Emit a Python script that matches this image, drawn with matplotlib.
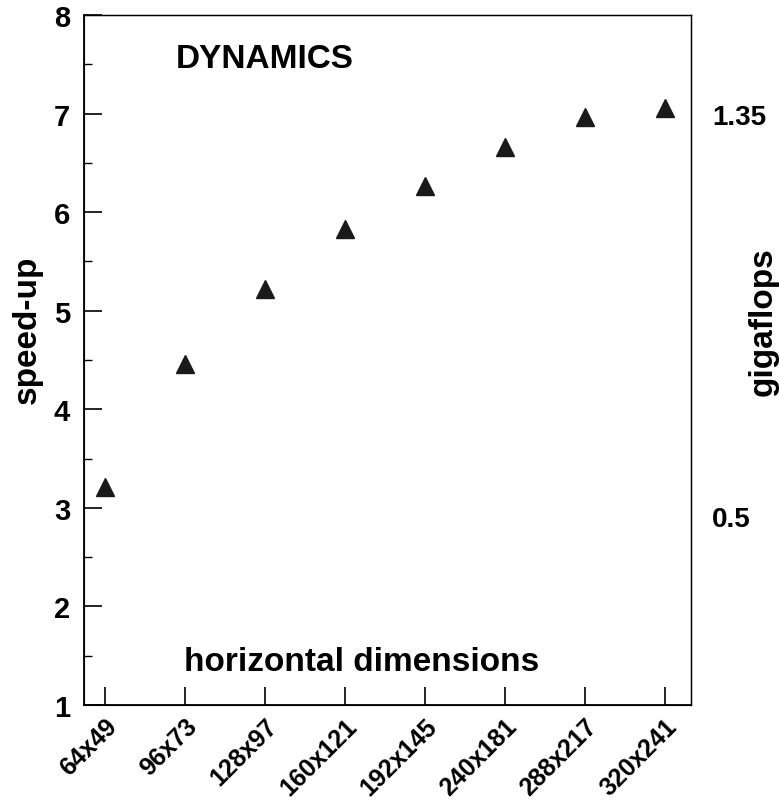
import matplotlib
matplotlib.use('Agg')
from matplotlib import pyplot as plt
from matplotlib.ticker import MultipleLocator

# data
dims = ['64x49', '96x73', '128x97', '160x121', '192x145', '240x181', '288x217', '320x241']
speedup = [3.21, 4.46, 5.22, 5.83, 6.27, 6.66, 6.97, 7.06]
gflop_labels = ['1.35', '0.5']
gflop_pos = [7.0, 2.92]   # where the gigaflops labels sit on the speed-up scale

plt.rcParams['font.family'] = ['Liberation Sans', 'DejaVu Sans']
plt.rcParams['font.weight'] = 'bold'

fig = plt.figure(figsize=(7.79, 8.04), dpi=100)
W, H = 779, 804
ax = fig.add_axes((84 / W, 1 - 706 / H, (691 - 84) / W, (706 - 16) / H))

x = list(range(len(dims)))
ax.plot(x, speedup, '^', ms=12.5, color='#1a1a1a', mec='#1a1a1a', ls='none')

ax.set_xlim(-0.26, 7.325)
ax.set_ylim(1, 8)
ax.set_xticks(x)
ax.set_xticklabels(dims, rotation=45, ha='right', va='top', rotation_mode='anchor', fontsize=18)
ax.yaxis.set_major_locator(MultipleLocator(1))
ax.yaxis.set_minor_locator(MultipleLocator(0.5))
ax.tick_params(axis='y', which='major', direction='in', length=13, width=1.2, labelsize=21, pad=10)
ax.tick_params(axis='y', which='minor', direction='in', length=6, width=1)
ax.tick_params(axis='x', which='major', direction='in', length=13, width=1.2, pad=6)
ax.tick_params(axis='x', which='minor', bottom=False)
for s in ax.spines.values():
    s.set_linewidth(1.3)
ax.spines['top'].set_linewidth(1.0)
ax.spines['right'].set_linewidth(1.0)

ax2 = ax.twinx()
ax2.set_ylim(ax.get_ylim())
ax2.set_yticks(gflop_pos)
ax2.set_yticklabels(gflop_labels, fontsize=20)
ax2.tick_params(axis='y', length=0, pad=15)

ax.text(265 / W, 1 - 60 / H, 'DYNAMICS', transform=fig.transFigure, ha='center', va='center', fontsize=24, fontweight='bold')
ax.text(362 / W, 1 - 663 / H, 'horizontal dimensions', transform=fig.transFigure, ha='center', va='center', fontsize=24, fontweight='bold')
fig.text(27 / W, 1 - 330 / H, 'speed-up', rotation=90, ha='center', va='center', fontsize=24, fontweight='bold')
fig.text(763 / W, 1 - 322 / H, 'gigaflops', rotation=90, ha='center', va='center', fontsize=24, fontweight='bold')

fig.savefig('out.png', dpi=100)
